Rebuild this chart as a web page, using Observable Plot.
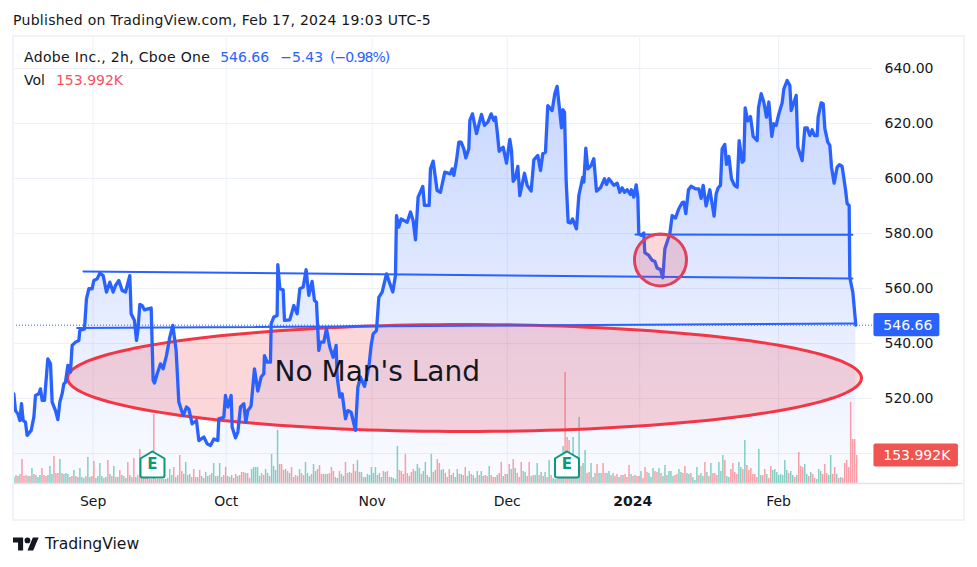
<!DOCTYPE html>
<html>
<head>
<meta charset="utf-8">
<script src="https://cdn.jsdelivr.net/npm/d3@7"></script>
<script src="https://cdn.jsdelivr.net/npm/@observablehq/plot@0.6"></script>
<style>
  html, body { margin: 0; padding: 0; background: #fff; overflow: hidden; }
  body { width: 977px; height: 567px; position: relative; font-family: "DejaVu Sans", sans-serif; color: #131722; }
  #title { height: 37px; box-sizing: border-box; padding: 12px 0 0 13px; font-size: 14px; line-height: 16px; white-space: nowrap; letter-spacing: 0.28px; }
  #frame { position: absolute; left: 12px; top: 35px; width: 949px; height: 482px; border: 2px solid #f0f3fa; pointer-events: none; }
  #legend { position: absolute; left: 24px; top: 46px; font-size: 14px; line-height: 23px; white-space: pre; }
  #legend .name { letter-spacing: 0.33px; }
  #legend .blue { color: #2962ff; } #legend .red { color: #f7525f; }
  #legend .pct { letter-spacing: -1px; }
  #chart svg { display: block; }
  #footer { position: absolute; left: 13px; top: 534px; height: 20px; display: flex; align-items: center; gap: 6px; font-size: 15.6px; }
</style>
</head>
<body>
<div id="title">Published on TradingView.com, Feb 17, 2024 19:03 UTC-5</div>
<div id="chart"></div>
<div id="frame"></div>
<div id="legend"><div><span class="name">Adobe Inc., 2h, Cboe One</span><span class="blue" style="margin-left:10px">546.66</span><span class="blue" style="margin-left:11px">−5.43</span><span class="blue pct" style="margin-left:7px">(−0.98%)</span></div><div>Vol<span class="red" style="margin-left:11px">153.992K</span></div></div>
<div id="footer">
  <svg width="26" height="14" viewBox="0 4 36 18"><path fill="#131722" d="M14 22H7V11H0V4h14v18zM28 22h-8l7.5-18h8L28 22z"/><circle fill="#131722" cx="20" cy="8" r="4"/></svg>
  <span>TradingView</span>
</div>
<script>
// x values are trading sessions counted from the start of September 2023
const closeDays = [-12.29,-12.03,-11.66,-11.35,-11.09,-10.83,-10.47,-10.21,-9.58,-9.16,-8.9,-8.38,-8.12,-7.86,-7.5,-6.98,-6.56,-6.3,-5.78,-5.41,-5.1,-4.74,-4.48,-4.22,-3.85,-3.44,-3.18,-2.65,-2.13,-1.98,-1.25,-0.94,-0.57,-0.05,0.21,0.73,1.15,1.67,2.19,2.71,3.23,3.6,4.12,4.64,5.16,5.83,6.04,6.56,6.88,7.09,7.4,7.76,8.13,8.65,9.17,9.48,9.69,10.11,10.63,11.04,11.56,12.08,12.55,13.07,13.49,14.17,14.69,15.05,15.57,16.25,16.62,17.4,17.92,18.44,18.96,19.58,19.74,20.52,20.78,21.15,21.67,21.82,22.34,22.71,23.13,23.65,23.96,24.27,24.69,
24.79,25.31,25.83,26.35,26.77,26.87,27.29,27.81,27.92,28.33,28.85,28.96,29.27,29.79,30,30.83,31.46,31.98,32.4,32.92,33.38,33.8,34.32,34.69,35,35.36,35.62,36.14,36.56,37.08,37.6,38.07,38.23,38.65,39.01,39.53,39.89,40.41,41.09,41.46,41.87,42.5,43.18,43.54,43.85,44.37,44.74,45.26,45.94,46.92,47.34,47.5,47.86,48.23,49.17,49.69,50.1,50.47,50.88,51.61,51.87,52.6,52.81,53.23,53.85,54.37,
55.05,55.94,56.2,56.46,56.87,57.24,57.6,58.02,58.33,58.8,58.96,59.37,60,60.78,61.25,61.77,62.29,62.71,62.97,63.23,63.54,64.17,64.69,65.21,65.47,65.73,66.09,66.46,66.77,67.5,67.92,68.54,68.96,69.58,70,70.36,70.78,71.14,71.82,72.24,72.6,73.28,73.49,73.75,74.01,74.32,74.69,75,75.62,75.99,76.61,76.77,77.08,77.39,77.91,78.33,78.75,79.37,80,80.31,80.68,81.46,81.98,82.39,82.76,83.12,83.54,84.06,84.22,84.58,84.95,85.21,85.36,85.73,86.14,
86.3,86.93,87.45,87.86,88.23,88.75,89.11,89.43,90.21,90.57,91.09,91.61,92.13,92.4,92.71,93.12,93.54,94.22,94.74,95.1,95.42,95.88,96.46,97.13,97.45,97.76,98.12,98.38,98.8,99.06,99.43,99.84,100.31,100.73,101.04,101.51,101.77,101.98,102.39,102.81,103.23,103.85,104.06,104.48,104.89,105.31,105.68,106.14,106.46,106.82,107.24,107.76,108.02,108.54,108.96,109.17,109.95,110.21,110.88,111.3,111.67,112.08,112.45,112.81,113.23,113.38,113.85,114.17,114.43,114.89,115.21,115.47,115.88,116.35,116.72,117.13,117.66,117.92,118.23,118.33,118.8,119.27];
const closePrices = [521.7,515.6,514.4,512,518.1,512,511.4,506.6,508.4,513.2,521.1,521.7,523.5,519.3,519.3,534.4,532.6,518.7,515.6,512.3,518.7,521.7,525.3,525.9,532,529.6,539.3,540.5,541.1,544.7,545.3,556.2,559.9,559.9,562.9,563.5,565.6,564.7,558.7,562.3,558.7,561.1,562.9,559.3,558.7,564.7,550.8,548.4,541.1,544.7,554.2,553.8,552.2,552.6,552.9,526.6,525.6,529,532.6,530.8,535.6,542.3,546.6,537.5,518.7,513.8,516.9,516.2,510.8,512,504.7,506,503.5,502.9,505.3,504.7,512.6,513.2,521.1,516.9,521.1,509.6,505.7,507.8,516.9,518.1,511.4,515.6,516.9,
517.5,530.8,522.7,527.8,529,535.6,533.2,533.2,547.2,549.6,550.2,568.7,559.9,559.5,548.4,548.6,553.8,550.8,559.9,560.5,566.8,557.5,562.6,555.6,555,537.5,540.5,540.5,545.3,538.7,535,539.3,527.8,520.5,521.7,512.6,515.6,515,508.4,524.1,527.8,524.4,531.4,539.3,543.5,544.7,556.8,558.7,565.3,558.7,564.7,586.5,582.3,585.3,584.1,587.8,584.7,577.7,593.2,597.1,590.2,590.2,603.5,606.3,595.6,595,
602.3,601.7,603.5,601.1,606.5,613.2,613.2,610.8,607.5,610.8,621.1,623.5,616.3,623.3,619.3,620.5,623.5,621.1,622.3,617.2,609.9,611.4,605.6,614.2,610.2,599,600.2,604.4,593.8,601.9,597.5,595.4,606.8,608.4,602.9,609,609.6,626.5,624.7,630.8,633.5,618.4,625,624.1,599.3,584.1,583.8,585.3,581.7,593.8,600.5,598.7,611,603.5,604.7,607.2,595.4,596.6,599.9,597.8,599.9,597.5,598.3,595,596.6,595,595.9,594.2,595.9,593.2,597.7,593.2,579.9,579.3,580.2,
573,572,570.2,569.9,567.4,566.9,563.9,574.4,579.9,586.5,585.6,589,591.2,591.4,587.2,595.9,597.2,596.2,596.2,592.8,597.5,590,595.9,586.3,594.4,596.6,597.5,610.8,612.4,605.1,608,599.9,597.5,596.8,613.8,605.9,606.5,625.7,620.9,622.5,615.3,613.8,625.7,630.8,627.8,622.3,627.8,615.3,619.9,619.3,623.5,627.5,632.6,635.6,633.8,624.7,630.2,611.4,606.5,618.4,618.4,615.6,617.7,615.6,615.6,622.3,627.5,627.2,618.1,613.2,612,604.1,598.3,604.1,605,604.4,595.9,590.8,590.2,563.9,558.7,546.66];

// bar volume in thousands of shares: positive = up bar (green), negative = down bar (red)
const volumeK = [33,-44,39,-50,-132,-39,-44,39,-39,83,-50,44,33,44,-83,-44,-39,44,94,50,-149,-55,-55,132,-55,50,55,50,-33,-39,72,-39,33,83,33,28,-39,143,33,-39,-121,28,39,110,39,-28,33,-127,50,-39,94,-33,33,-72,44,-39,28,-116,44,-33,-138,33,-44,-187,94,-55,-110,-83,22,-22,-380,-22,22,-22,22,-22,22,-28,77,44,-88,33,-44,-154,-66,50,116,-44,50,-33,-77,33,-33,-72,39,-28,61,39,-44,55,110,-39,39,110,-33,-44,-88,39,
-33,44,-28,-50,39,-44,-61,-61,55,-55,-28,77,88,88,88,39,-55,-44,77,55,-39,160,94,72,292,-105,-105,-72,77,-66,55,-88,-33,-44,-39,77,-55,-44,116,55,39,-50,105,66,-77,-99,-50,50,-50,50,-55,-88,-66,33,28,-66,50,39,-116,-55,61,-55,-105,-66,127,-61,61,-33,33,50,44,88,55,88,-44,55,33,-66,61,-66,-33,33,28,22,204,-72,-66,-50,-160,-55,39,-61,-77,66,105,83,-50,66,116,-44,33,160,-61,72,-132,-110,
72,77,-55,-33,-77,44,-55,33,77,-50,50,-44,-88,39,66,-50,44,-28,66,-44,66,39,-44,-39,94,-44,-33,-33,44,-55,-116,39,-50,50,-105,77,-132,83,-55,-33,-116,66,61,-39,-116,39,-44,44,110,-44,61,-39,61,-33,127,-44,28,22,22,-66,88,204,-611,-253,-237,132,253,-143,149,363,-94,110,182,-55,-61,110,-33,55,-105,55,55,-110,-55,55,66,-44,55,-39,-50,33,-44,44,-50,-33,-99,50,-39,44,-39,-39,66,-28,
-88,-61,55,33,83,-66,-61,83,-55,39,99,-44,66,66,39,-44,-50,77,61,-55,-94,55,50,-55,33,17,88,-44,55,39,-116,61,-39,110,-55,-55,-44,116,66,154,-127,39,33,-77,-110,-61,-50,116,88,-77,237,-99,-72,-83,-50,-50,-33,187,44,-44,-77,50,-28,-94,72,77,61,44,50,44,127,72,-55,66,44,-33,44,-171,-94,-88,105,50,-39,61,-50,-28,22,77,66,-50,-105,-55,44,154,-50,-88,50,-28,33,-28,-110,-127,-88,-446,-242,-242,-154];
const barStep = 0.312;           // sessions per 2h bar as drawn on the compressed axis
const lastBarDay = 119.4;

const monthDays = [0.1, 20.9, 43.7, 64.8, 107.2];
const monthLabels = ["Sep", "Oct", "Nov", "Dec", "Feb"];
const yearGridDay = 85.5, yearLabelDay = 84.4, yearLabel = "2024";
const priceTicks = [520, 540, 560, 580, 600, 620, 640];
const priceGrid = [500, 520, 540, 560, 580, 600, 620, 640];

const lastPrice = 546.66, lastVolumeK = 153.992;
const trendLines = [
  {days: [-1.41, 118.75], prices: [566.2, 563.6]},
  {days: [-2.4, 119.3], prices: [545.6, 547.3]},
  {days: [84.84, 118.75], prices: [579.6, 579.5]}
];
const zone = {day: 58.125, price: 527.45, dayRadius: 62.03, priceRadius: 19.45, label: "No Man's Land", labelDay: 44.5, labelPrice: 529.5};
const circleMark = {day: 88.75, price: 570.4};
const earningsDays = [9.375, 74.14], earningsPrice = 496;

const priceMin = 489.09, priceMax = 650.9;
const volPerPrice = 0.0661;      // overlay volume pane: price units per thousand shares
const volY = v => priceMin + v * volPerPrice;

const closeData = closeDays.map((d, i) => ({d, p: closePrices[i]}));
const volData = volumeK.map((v, i) => ({d: lastBarDay - (volumeK.length - 1 - i) * barStep, v: Math.abs(v), up: v > 0}));
const zonePts = d3.range(0, 361, 2).map(a => ({
  d: zone.day + zone.dayRadius * Math.cos(a * Math.PI / 180),
  p: zone.price + zone.priceRadius * Math.sin(a * Math.PI / 180)
}));

const houseSymbol = {
  draw(c) {
    c.moveTo(0, -13); c.lineTo(12, -6); c.lineTo(12, 11); c.quadraticCurveTo(12, 13, 10, 13);
    c.lineTo(-10, 13); c.quadraticCurveTo(-12, 13, -12, 11); c.lineTo(-12, -6); c.closePath();
  }
};

const gradient = () => {
  const defs = d3.create("svg:defs");
  const g = defs.append("linearGradient").attr("id", "areaFill").attr("x1", 0).attr("y1", 0).attr("x2", 0).attr("y2", 1);
  g.append("stop").attr("offset", "0%").attr("stop-color", "#2962ff").attr("stop-opacity", 0.26);
  g.append("stop").attr("offset", "100%").attr("stop-color", "#2962ff").attr("stop-opacity", 0.02);
  return defs.node();
};

const ink = "#131722", blue = "#2962ff", red = "#f23645", tagRed = "#f05350", teal = "#089981";

const chart = Plot.plot({
  width: 977, height: 483,
  marginLeft: 13, marginRight: 105, marginTop: 1, marginBottom: 37,
  style: {fontFamily: '"DejaVu Sans", sans-serif', fontSize: "14px", background: "transparent", overflow: "visible"},
  x: {type: "linear", domain: [-12.34, 121.875]},
  y: {type: "linear", domain: [priceMin, priceMax]},
  marks: [
    gradient,
    Plot.gridX([...monthDays, yearGridDay], {x: d => d, stroke: "#edf0f6", strokeOpacity: 1}),
    Plot.gridY(priceGrid, {y: d => d, stroke: "#edf0f6", strokeOpacity: 1}),
    Plot.areaY(closeData, {x: "d", y1: priceMin, y2: "p", fill: "url(#areaFill)", curve: "linear"}),
    Plot.ruleX(volData, {x: "d", y1: priceMin, y2: d => volY(d.v), stroke: d => d.up ? "#22ab94" : "#f7525f", strokeOpacity: 0.55, strokeWidth: 1.5}),
    Plot.ruleY([priceMin], {x1: -12.34, x2: 136, stroke: "#e0e3eb", strokeWidth: 1.5}),
    Plot.line(zonePts, {x: "d", y: "p", stroke: red, strokeWidth: 3, fill: red, fillOpacity: 0.2, curve: "linear"}),
    Plot.ruleY([lastPrice], {stroke: blue, strokeWidth: 1, strokeDasharray: "1,2"}),
    Plot.line(closeData, {x: "d", y: "p", stroke: blue, strokeWidth: 3.3, strokeLinejoin: "round"}),
    ...trendLines.map(t => Plot.line(t.days.map((d, i) => ({d, p: t.prices[i]})), {x: "d", y: "p", stroke: blue, strokeWidth: 2})),
    Plot.dot([circleMark], {x: "day", y: "price", r: 26, stroke: "#e0405a", strokeWidth: 3, fill: red, fillOpacity: 0.2}),
    Plot.dot(earningsDays, {x: d => d, y: earningsPrice, r: 10, symbol: houseSymbol, stroke: teal, strokeWidth: 2, fill: "#fff"}),
    Plot.text(earningsDays, {x: d => d, y: earningsPrice, text: () => "E", fill: teal, fontSize: 15, fontWeight: "bold"}),
    Plot.text([zone], {x: "labelDay", y: "labelPrice", text: "label", fontSize: 28, fill: ink}),
    Plot.axisY(priceTicks, {anchor: "right", tickSize: 0, tickPadding: 12, tickFormat: d => d.toFixed(2), fontSize: 14, fill: ink, label: null}),
    Plot.axisX(monthDays, {anchor: "bottom", tickSize: 0, tickPadding: 13, tickFormat: d => monthLabels[monthDays.indexOf(d)], fontSize: 14, fill: ink, label: null}),
    Plot.axisX([yearLabelDay], {anchor: "bottom", tickSize: 0, tickPadding: 13, tickFormat: () => yearLabel, fontSize: 14, fontWeight: "bold", fill: ink, label: null}),
    Plot.rect([lastPrice], {x1: 122.1, x2: 132.4, y1: d => d - 4.2, y2: d => d + 4.2, fill: blue, rx: 2}),
    Plot.text([lastPrice], {x: 127.4, y: d => d, text: d => d.toFixed(2), fill: "#fff", fontSize: 14}),
    Plot.rect([lastVolumeK], {x1: 122.1, x2: 135.3, y1: d => volY(d) - 4.2, y2: d => volY(d) + 4.2, fill: tagRed, rx: 2}),
    Plot.text([lastVolumeK], {x: 128.8, y: volY, text: d => d.toFixed(3) + "K", fill: "#fff", fontSize: 14})
  ]
});
document.getElementById("chart").append(chart);
</script>
</body>
</html>
